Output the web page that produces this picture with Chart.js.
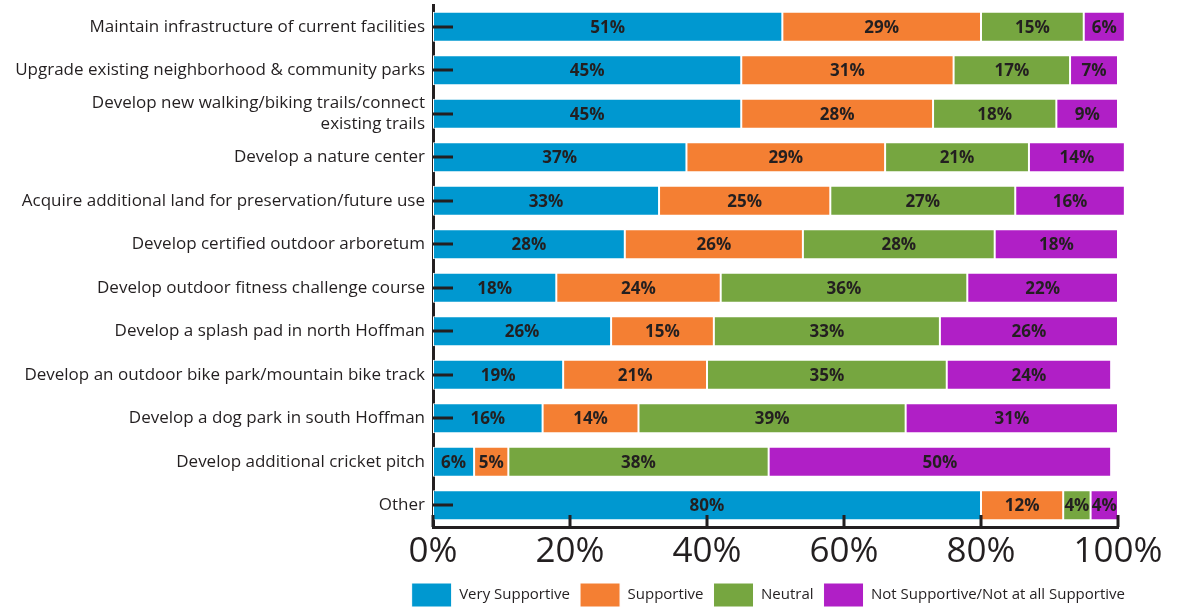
<!DOCTYPE html>
<html><head><meta charset="utf-8">
<script src="https://cdn.jsdelivr.net/npm/chart.js@4/dist/chart.umd.min.js"></script>
<style>html,body{margin:0;padding:0;background:#fff}#wrap{width:1181px;height:607px;position:relative}</style>
</head><body><div id="wrap"><canvas id="c"></canvas></div>
<script>
const categories = [
  "Maintain infrastructure of current facilities",
  "Upgrade existing neighborhood & community parks",
  ["Develop new walking/biking trails/connect", "existing trails"],
  "Develop a nature center",
  "Acquire additional land for preservation/future use",
  "Develop certified outdoor arboretum",
  "Develop outdoor fitness challenge course",
  "Develop a splash pad in north Hoffman",
  "Develop an outdoor bike park/mountain bike track",
  "Develop a dog park in south Hoffman",
  "Develop additional cricket pitch",
  "Other"
];
const seriesNames = ["Very Supportive", "Supportive", "Neutral", "Not Supportive/Not at all Supportive"];
const verySupportive = [51, 45, 45, 37, 33, 28, 18, 26, 19, 16, 6, 80];
const supportive     = [29, 31, 28, 29, 25, 26, 24, 15, 21, 14, 5, 12];
const neutral        = [15, 17, 18, 21, 27, 28, 36, 33, 35, 39, 38, 4];
const notSupportive  = [6, 7, 9, 14, 16, 18, 22, 26, 24, 31, 50, 4];
const xTicks = [0, 20, 40, 60, 80, 100];

const colors = ["#0098D0", "#F47F33", "#76A640", "#B01FC6"];
const ink = "#231F20";
const labelFont = "'Open Sans', 'Noto Sans', sans-serif";

const seriesValues = [verySupportive, supportive, neutral, notSupportive];

const segmentLabels = {
  id: 'segmentLabels',
  afterDatasetsDraw(chart) {
    const ctx = chart.ctx;
    ctx.save();
    const xs = chart.scales.x, ys = chart.scales.y;
    // inward tick marks
    ctx.strokeStyle = ink;
    ctx.lineWidth = 3;
    ctx.beginPath();
    xTicks.forEach(v => {
      const px = Math.round(xs.getPixelForValue(v));
      ctx.moveTo(px, chart.chartArea.bottom);
      ctx.lineTo(px, chart.chartArea.bottom - 12);
    });
    categories.forEach((c, i) => {
      if (verySupportive[i] < 10) return; // label covers the tick in narrow first segments
      const py = Math.round(ys.getPixelForValue(i));
      ctx.moveTo(chart.chartArea.left, py);
      ctx.lineTo(chart.chartArea.left + 20, py);
    });
    ctx.stroke();
    ctx.font = "bold 17px " + labelFont;
    ctx.fillStyle = ink;
    ctx.textAlign = 'center';
    ctx.textBaseline = 'middle';
    chart.data.datasets.forEach((ds, di) => {
      const meta = chart.getDatasetMeta(di);
      meta.data.forEach((el, i) => {
        const p = el.getCenterPoint();
        ctx.fillText(ds.data[i] + '%', p.x, p.y + 1);
      });
    });
    ctx.restore();
  }
};

new Chart(document.getElementById('c'), {
  type: 'bar',
  data: {
    labels: categories,
    datasets: seriesValues.map((vals, k) => ({
      label: seriesNames[k],
      data: vals,
      backgroundColor: colors[k],
      borderColor: '#ffffff',
      borderWidth: 1,
      borderSkipped: false,
      barPercentage: 0.69,
      categoryPercentage: 1,
      clip: false
    }))
  },
  options: {
    indexAxis: 'y',
    responsive: true,
    maintainAspectRatio: false,
    animation: false,
    layout: { padding: { top: 5, right: 46, left: 0, bottom: -10 } },
    plugins: {
      tooltip: { enabled: false },
      legend: {
        position: 'bottom',
        align: 'end',
        labels: {
          boxWidth: 40, boxHeight: 24, padding: 10,
          color: ink,
          font: { family: labelFont, size: 15 }
        }
      }
    },
    scales: {
      x: {
        stacked: true, min: 0, max: 100,
        afterBuildTicks(scale) { scale.ticks = xTicks.map(v => ({ value: v })); },
        afterFit(scale) { scale.height = 46; scale.paddingRight = 63; },
        grid: { display: false, drawTicks: false },
        border: { display: true, color: ink, width: 3 },
        ticks: {
          padding: 4,
          color: ink,
          maxRotation: 0,
          font: { family: labelFont, size: 35 },
          callback: v => v + '%'
        }
      },
      y: {
        stacked: true,
        afterFit(scale) { scale.width = 433; scale.paddingTop = 0; scale.paddingBottom = 0; },
        grid: { display: false, drawTicks: false },
        border: { display: true, color: ink, width: 3 },
        ticks: {
          autoSkip: false,
          padding: 8,
          color: ink,
          font: { family: labelFont, size: 17 }
        }
      }
    }
  },
  plugins: [segmentLabels]
});
</script>
</body></html>
